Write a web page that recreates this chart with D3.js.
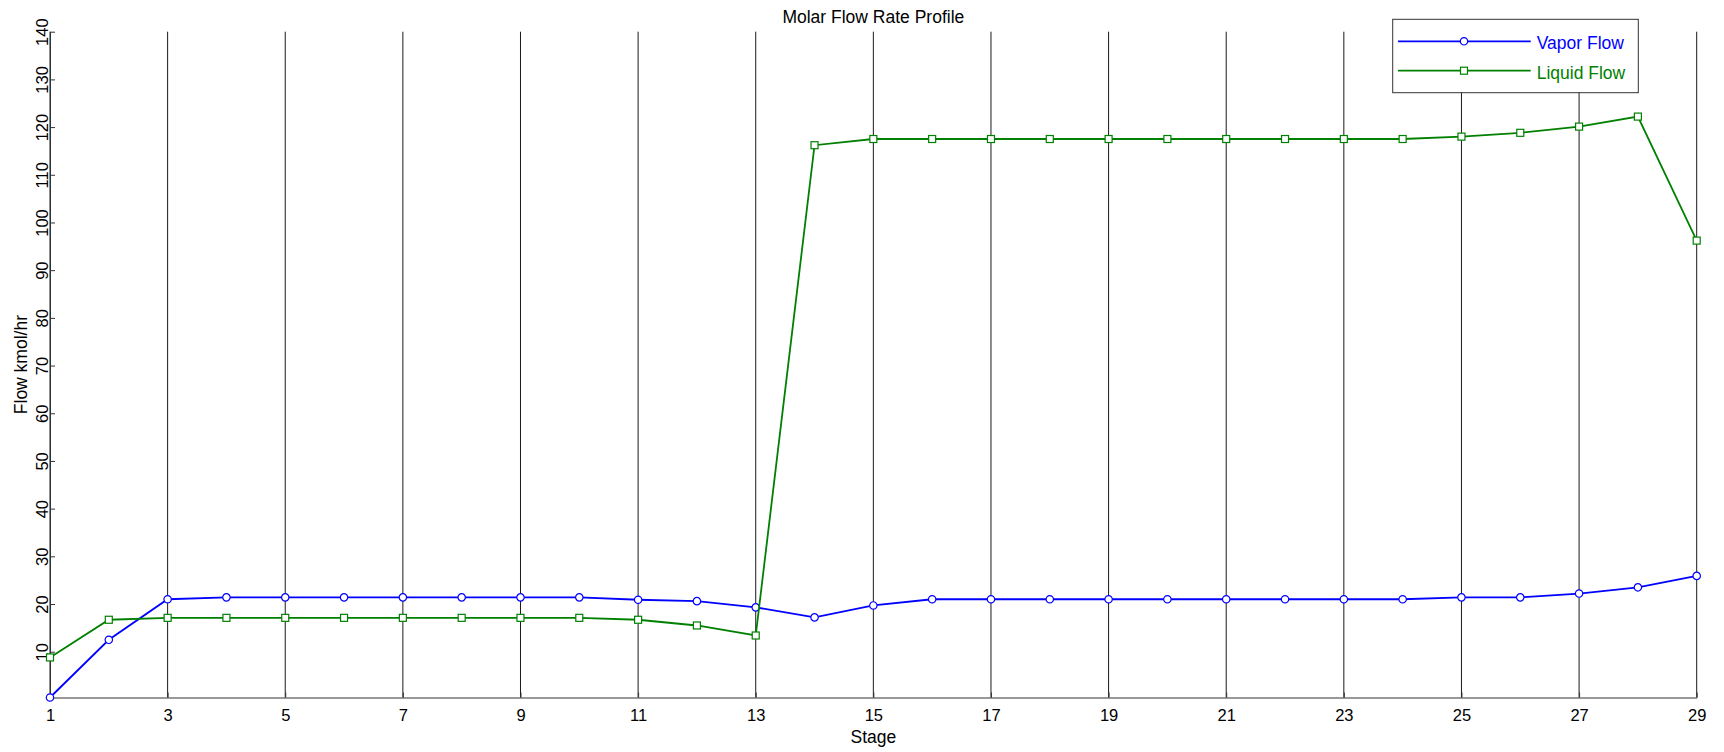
<!DOCTYPE html>
<html>
<head>
<meta charset="utf-8">
<style>
  body { margin: 0; background: #fff; }
  text { font-family: "Liberation Sans", Arial, sans-serif; fill: #000; }
</style>
</head>
<body>
<svg id="chart" width="1724" height="752"></svg>
<script src="https://d3js.org/d3.v7.min.js"></script>
<script>
// stage numbers on the x axis
const stages = [1, 2, 3, 4, 5, 6, 7, 8, 9, 10, 11, 12, 13, 14, 15,
                16, 17, 18, 19, 20, 21, 22, 23, 24, 25, 26, 27, 28, 29];

const vaporFlow = [0.4, 12.5, 21.0, 21.4, 21.4, 21.4, 21.4, 21.4, 21.4, 21.4,
                   20.9, 20.6, 19.3, 17.2, 19.7, 21.0, 21.0, 21.0, 21.0, 21.0,
                   21.0, 21.0, 21.0, 21.0, 21.4, 21.4, 22.2, 23.5, 25.9];

const liquidFlow = [8.8, 16.7, 17.1, 17.1, 17.1, 17.1, 17.1, 17.1, 17.1, 17.1,
                    16.7, 15.5, 13.4, 116.2, 117.5, 117.5, 117.5, 117.5, 117.5, 117.5,
                    117.5, 117.5, 117.5, 117.5, 118.0, 118.8, 120.1, 122.2, 96.2];

const xTicks = [1, 3, 5, 7, 9, 11, 13, 15, 17, 19, 21, 23, 25, 27, 29];
const yTicks = [10, 20, 30, 40, 50, 60, 70, 80, 90, 100, 110, 120, 130, 140];

const plotLeft = 50, plotRight = 1696.7, plotTop = 31.7, plotBottom = 697.5;

const svg = d3.select('#chart');

const x = d3.scaleLinear().domain([1, 29]).range([plotLeft, plotRight]);
const y = d3.scaleLinear().domain([0.4, 140]).range([plotBottom, plotTop]);

// vertical grid lines
svg.append('g')
  .selectAll('line')
  .data(xTicks)
  .join('line')
    .attr('x1', d => x(d)).attr('x2', d => x(d))
    .attr('y1', plotTop).attr('y2', plotBottom)
    .attr('stroke', '#1a1a1a')
    .attr('stroke-width', 1);

// x axis
const xAxis = svg.append('g')
  .attr('transform', `translate(0,${plotBottom})`)
  .call(d3.axisBottom(x).tickValues(xTicks).tickSizeInner(-5).tickSizeOuter(0).tickPadding(12));
xAxis.select('.domain').attr('stroke', '#333');
xAxis.selectAll('.tick line').attr('stroke', '#333');
xAxis.selectAll('text')
  .style('font-size', '16.5px')
  .style('font-family', '"Liberation Sans", Arial, sans-serif');

// y axis
const yAxis = svg.append('g')
  .attr('transform', `translate(${plotLeft},0)`)
  .call(d3.axisLeft(y).tickValues(yTicks).tickSizeInner(-5).tickSizeOuter(0));
yAxis.select('.domain').attr('stroke', '#333');
yAxis.selectAll('.tick line').attr('stroke', '#333');
yAxis.selectAll('text').remove();
yAxis.selectAll('.tick').append('text')
  .attr('transform', 'translate(-2,0) rotate(-90)')
  .attr('text-anchor', 'middle')
  .style('font-size', '16.5px')
  .style('font-family', '"Liberation Sans", Arial, sans-serif')
  .attr('fill', '#000')
  .text(d => d);

// titles
svg.append('text')
  .attr('x', (plotLeft + plotRight) / 2).attr('y', 23)
  .attr('text-anchor', 'middle')
  .style('font-size', '17.5px')
  .text('Molar Flow Rate Profile');

svg.append('text')
  .attr('x', (plotLeft + plotRight) / 2).attr('y', 743)
  .attr('text-anchor', 'middle')
  .style('font-size', '17.5px')
  .text('Stage');

svg.append('text')
  .attr('transform', `translate(27,${(plotTop + plotBottom) / 2}) rotate(-90)`)
  .attr('text-anchor', 'middle')
  .style('font-size', '17.5px')
  .text('Flow kmol/hr');

// series
const series = [
  { name: 'Vapor Flow', values: vaporFlow, color: '#0000ff', marker: 'circle' },
  { name: 'Liquid Flow', values: liquidFlow, color: '#008000', marker: 'square' }
];

const line = d3.line().x((d, i) => x(stages[i])).y(d => y(d));

function drawMarker(g, kind, color) {
  if (kind === 'circle') {
    g.append('circle').attr('r', 3.7)
      .attr('fill', '#fff').attr('stroke', color).attr('stroke-width', 1.2);
  } else {
    g.append('rect').attr('x', -3.5).attr('y', -3.5).attr('width', 7).attr('height', 7)
      .attr('fill', '#fff').attr('stroke', color).attr('stroke-width', 1.2);
  }
}

series.forEach(s => {
  svg.append('path')
    .datum(s.values)
    .attr('fill', 'none')
    .attr('stroke', s.color)
    .attr('stroke-width', 1.8)
    .attr('d', line);
  s.values.forEach((v, i) => {
    const g = svg.append('g').attr('transform', `translate(${x(stages[i])},${y(v)})`);
    drawMarker(g, s.marker, s.color);
  });
});

// legend
const legend = svg.append('g');
legend.append('rect')
  .attr('x', 1392.7).attr('y', 19.3)
  .attr('width', 245.6).attr('height', 73.4)
  .attr('fill', '#fff').attr('stroke', '#333').attr('stroke-width', 1);

series.forEach((s, i) => {
  const ly = 41.3 + i * 29.4;
  legend.append('line')
    .attr('x1', 1398).attr('x2', 1530.7)
    .attr('y1', ly).attr('y2', ly)
    .attr('stroke', s.color).attr('stroke-width', 1.8);
  const g = legend.append('g').attr('transform', `translate(1464,${ly})`);
  drawMarker(g, s.marker, s.color);
  legend.append('text')
    .attr('x', 1536.7).attr('y', ly + 8)
    .style('font-size', '17.5px')
    .style('fill', s.color)
    .text(s.name);
});
</script>
</body>
</html>
